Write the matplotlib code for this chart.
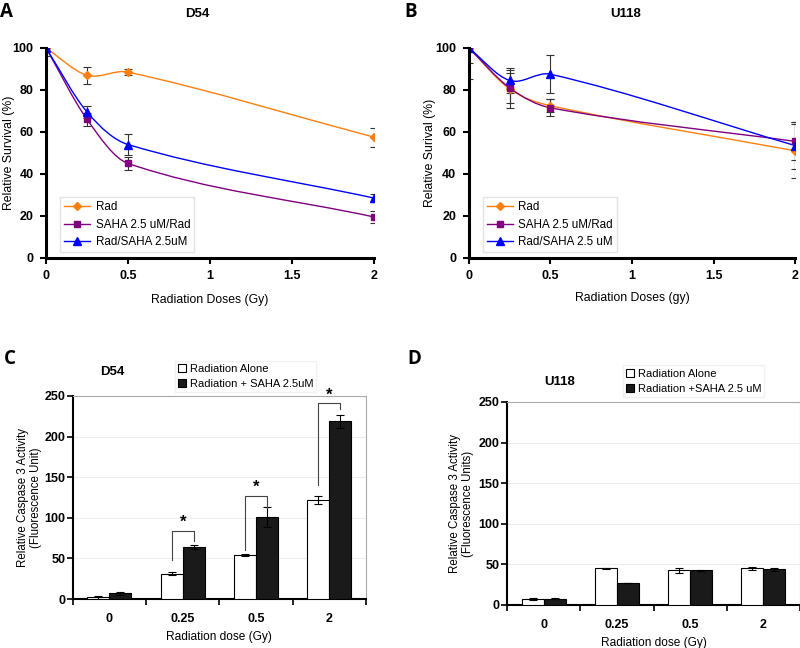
import matplotlib
matplotlib.use("Agg")
import matplotlib.pyplot as plt
import numpy as np
from matplotlib.path import Path
from matplotlib.patches import PathPatch

plt.rcParams['font.family'] = ['Liberation Sans', 'DejaVu Sans']

# survival curves (panels A, B)
doses = [0, 0.25, 0.5, 2]
seriesNames_A = ["Rad", "SAHA 2.5 uM/Rad", "Rad/SAHA 2.5uM"]
seriesNames_B = ["Rad", "SAHA 2.5 uM/Rad", "Rad/SAHA 2.5 uM"]

d54_rad = [100, 87, 88.5, 57.5]
d54_rad_err = [0, 4, 1.5, 4.5]
d54_sahaRad = [100, 66, 45, 19.5]
d54_sahaRad_err = [0, 3, 3, 3]
d54_radSaha = [100, 69.5, 54, 28.5]
d54_radSaha_err = [4, 3, 5, 2]

u118_rad = [100, 80.5, 72.5, 51]
u118_rad_err = [0, 9, 3, 13]
u118_sahaRad = [100, 81, 71.5, 55.5]
u118_sahaRad_err = [7, 7, 4, 9]
u118_radSaha = [100, 84.5, 87.5, 53.5]
u118_radSaha_err = [15, 6, 9, 11]

# caspase bars (panels C, D)
doseLabels = ["0", "0.25", "0.5", "2"]
d54_alone = [2, 31, 54, 122]
d54_alone_err = [1.5, 2, 1.5, 5]
d54_saha = [7, 64, 101, 219]
d54_saha_err = [2, 3, 12, 8]

u118_alone = [7, 45, 42.5, 45]
u118_alone_err = [1, 1, 3, 2]
u118_saha = [7.5, 27, 42.5, 44]
u118_saha_err = [0.5, 0.5, 0.5, 2]

# significance brackets for D54: (category, left bottom, top, right bottom)
brackets = [(1, 48, 84, 72), (2, 60, 127, 112), (3, 140, 241, 234)]

colors = ["#ff7f0e", "#800080", "#0000ff"]
markers = ["D", "s", "^"]
msizes = [4, 5, 6]


def smoothLine(ax, xs, ys, color):
    # smoothed line through the points (cubic hermite, drawn as bezier)
    xs = np.array(xs, float)
    ys = np.array(ys, float)
    n = len(xs)
    slopes = np.zeros(n)
    slopes[0] = (ys[1] - ys[0]) / (xs[1] - xs[0])
    slopes[-1] = (ys[-1] - ys[-2]) / (xs[-1] - xs[-2])
    for i in range(1, n - 1):
        slopes[i] = (ys[i + 1] - ys[i - 1]) / (xs[i + 1] - xs[i - 1])
    verts = [(xs[0], ys[0])]
    codes = [Path.MOVETO]
    for i in range(n - 1):
        h = (xs[i + 1] - xs[i]) / 3.0
        verts += [(xs[i] + h, ys[i] + slopes[i] * h),
                  (xs[i + 1] - h, ys[i + 1] - slopes[i + 1] * h),
                  (xs[i + 1], ys[i + 1])]
        codes += [Path.CURVE4] * 3
    ax.add_patch(PathPatch(Path(verts, codes), fill=False, edgecolor=color, lw=1.0, zorder=3))


def survivalPanel(ax, data, names, xlabel, ylabel, ylabelX, xlabelY):
    for (vals, errs), name, c, m, ms in zip(data, names, colors, markers, msizes):
        smoothLine(ax, doses, vals, c)
        ax.errorbar(doses, vals, yerr=errs, fmt='none', ecolor='#333333', elinewidth=0.8,
                    capsize=3, capthick=0.8, zorder=4)
        ax.plot(doses, vals, linestyle='none', marker=m, color=c, markersize=ms, zorder=5)
        ax.plot([], [], color=c, marker=m, markersize=ms, lw=1.0, label=name)
    ax.set_xlim(0, 2)
    ax.set_ylim(0, 100)
    ax.set_xticks([0, 0.5, 1, 1.5, 2])
    ax.set_xticklabels(["0", "0.5", "1", "1.5", "2"])
    ax.set_yticks(range(0, 101, 20))
    for s in ["top", "right"]:
        ax.spines[s].set_visible(False)
    ax.spines["left"].set_linewidth(2.2)
    ax.spines["bottom"].set_linewidth(2.2)
    ax.tick_params(width=1.5, length=4, labelsize=9, direction='out', pad=5)
    for t in ax.get_xticklabels() + ax.get_yticklabels():
        t.set_fontweight('bold')
    ax.set_xlabel(xlabel, fontsize=8.8)
    ax.set_ylabel(ylabel, fontsize=8.8)
    ax.yaxis.set_label_coords(ylabelX, 0.5)
    ax.xaxis.set_label_coords(0.5, xlabelY)
    ax.legend(loc='lower left', bbox_to_anchor=(0.025, 0.0), fontsize=8.4, frameon=True,
              fancybox=False, edgecolor='#dddddd', handlelength=2.2, borderpad=0.35,
              labelspacing=0.45, handletextpad=0.5)
    for s in ["left", "bottom"]:
        ax.spines[s].set_zorder(6)


def barPanel(ax, alone, aloneErr, saha, sahaErr, ylabel, legendLabels, ylabelX, xlabelY):
    x = np.arange(len(doseLabels))
    w = 0.3
    ax.bar(x - w / 2, alone, w, color='white', edgecolor='black', lw=0.8, label=legendLabels[0], zorder=3)
    ax.bar(x + w / 2, saha, w, color='#1a1a1a', edgecolor='black', lw=0.8, label=legendLabels[1], zorder=3)
    ax.errorbar(x - w / 2, alone, yerr=aloneErr, fmt='none', ecolor='black', elinewidth=0.8,
                capsize=3, capthick=0.8, zorder=4)
    ax.errorbar(x + w / 2, saha, yerr=sahaErr, fmt='none', ecolor='black', elinewidth=0.8,
                capsize=3, capthick=0.8, zorder=4)
    ax.set_xlim(-0.5, len(doseLabels) - 0.5)
    ax.set_ylim(0, 250)
    ax.set_yticks(range(0, 251, 50))
    ax.yaxis.grid(True, color='#eeeeee', lw=0.8, zorder=0)
    ax.set_xticks(x)
    ax.set_xticklabels(doseLabels)
    ax.set_xticks(np.arange(-0.5, len(doseLabels), 1), minor=True)
    ax.tick_params(axis='x', which='major', length=0, pad=10)
    ax.tick_params(axis='x', which='minor', length=4, width=1.2)
    ax.tick_params(axis='y', length=4, width=1.2, pad=1.5)
    ax.tick_params(labelsize=9)
    for t in ax.get_xticklabels() + ax.get_yticklabels():
        t.set_fontweight('bold')
    ax.spines["left"].set_linewidth(1.5)
    ax.spines["bottom"].set_linewidth(1.5)
    ax.spines["top"].set_color('#aaaaaa')
    ax.spines["right"].set_color('#aaaaaa')
    ax.spines["top"].set_linewidth(0.8)
    ax.spines["right"].set_linewidth(0.8)
    ax.set_ylabel(ylabel, fontsize=8.3, linespacing=1.1)
    ax.set_xlabel("Radiation dose (Gy)", fontsize=8.6)
    ax.yaxis.set_label_coords(ylabelX, 0.5)
    ax.xaxis.set_label_coords(0.5, xlabelY)


fig = plt.figure(figsize=(8, 6.48), dpi=100)

axA = fig.add_axes([0.0575, 0.602, 0.41, 0.324])
survivalPanel(axA,
              [(d54_rad, d54_rad_err), (d54_sahaRad, d54_sahaRad_err), (d54_radSaha, d54_radSaha_err)],
              seriesNames_A, "Radiation Doses (Gy)", "Relative Survival (%)", -0.095, -0.17)
axB = fig.add_axes([0.586, 0.602, 0.408, 0.324])
survivalPanel(axB,
              [(u118_rad, u118_rad_err), (u118_sahaRad, u118_sahaRad_err), (u118_radSaha, u118_radSaha_err)],
              seriesNames_B, "Radiation Doses (gy)", "Relative Surival (%)", -0.10, -0.163)

fig.text(0.247, 0.987, "D54", ha='center', va='top', fontsize=9.5, fontweight='bold')
fig.text(0.7825, 0.987, "U118", ha='center', va='top', fontsize=9.5, fontweight='bold')

axC = fig.add_axes([0.091, 0.0756, 0.3665, 0.3133])
barPanel(axC, d54_alone, d54_alone_err, d54_saha, d54_saha_err,
         "Relative Caspase 3 Activity\n(Fluorescence Unit)",
         ["Radiation Alone", "Radiation + SAHA 2.5uM"], -0.106, -0.158)
axD = fig.add_axes([0.634, 0.0664, 0.366, 0.3133])
barPanel(axD, u118_alone, u118_alone_err, u118_saha, u118_saha_err,
         "Relative Caspase 3 Activity\n(Fluorescence Units)",
         ["Radiation Alone", "Radiation +SAHA 2.5 uM"], -0.113, -0.160)

for cat, lo, top, ro in brackets:
    xl = cat - 0.15
    xr = cat + 0.15
    axC.plot([xl, xl, xr, xr], [lo, top, top, ro], color='#444444', lw=0.8, zorder=5)
    axC.text(cat, top + 1, "*", ha='center', va='bottom', fontsize=12, fontweight='bold')

fig.text(0.141, 0.4255, "D54", ha='center', va='center', fontsize=9.5, fontweight='bold')
fig.text(0.70, 0.410, "U118", ha='center', va='center', fontsize=9.5, fontweight='bold')

handles, labels = axC.get_legend_handles_labels()
fig.legend(handles, labels, loc='upper left', bbox_to_anchor=(0.212, 0.452), fontsize=8,
           frameon=True, fancybox=False, edgecolor='#eeeeee', handlelength=0.7, handleheight=0.7,
           handletextpad=0.3, borderpad=0.3, labelspacing=0.45)
handles, labels = axD.get_legend_handles_labels()
fig.legend(handles, labels, loc='upper left', bbox_to_anchor=(0.772, 0.445), fontsize=8,
           frameon=True, fancybox=False, edgecolor='#eeeeee', handlelength=0.7, handleheight=0.7,
           handletextpad=0.3, borderpad=0.3, labelspacing=0.45)

for letter, x, y in [("A", 0.0, 0.997), ("B", 0.505, 0.997), ("C", 0.005, 0.462), ("D", 0.509, 0.462)]:
    fig.text(x, y, letter, ha='left', va='top', fontsize=13.5, fontweight='bold',
             family=['Open Sans', 'DejaVu Sans'])

fig.savefig("out.png", dpi=100)
